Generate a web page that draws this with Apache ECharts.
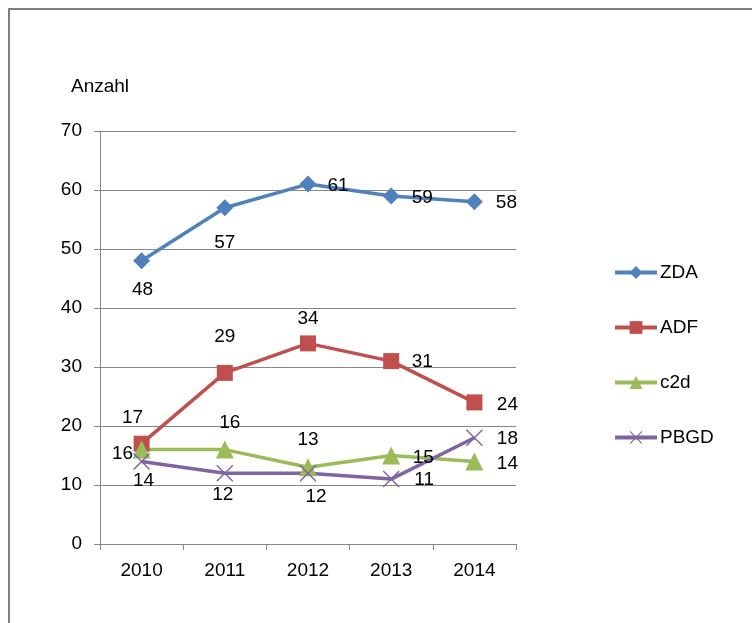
<!DOCTYPE html>
<html>
<head>
<meta charset="utf-8">
<script src="https://cdn.jsdelivr.net/npm/echarts@6/dist/echarts.min.js"></script>
<style>
html,body{margin:0;padding:0;background:#fff;}
#chart{width:752px;height:623px;}
</style>
</head>
<body>
<div id="chart"></div>
<script>
const categories = ['2010', '2011', '2012', '2013', '2014'];
const seriesNames = ['ZDA', 'ADF', 'c2d', 'PBGD'];
const zdaValues = [48, 57, 61, 59, 58];
const adfValues = [17, 29, 34, 31, 24];
const c2dValues = [16, 16, 13, 15, 14];
const pbgdValues = [14, 12, 12, 11, 18];
const yTicks = { min: 0, max: 70, interval: 10 };
const yAxisTitle = 'Anzahl';

// label offsets (style only)
const zdaOffsets = [[1, 29], [0, 35], [30, 2], [31, 2], [32, 1]];
const adfOffsets = [[-9, -26], [0, -36], [0, -25], [31, 1], [33, 2]];
const c2dOffsets = [[-19, 4], [5, -27], [0, -28], [32, 2], [33, 2]];
const pbgdOffsets = [[2, 19], [-2, 22], [8, 24], [33, 1], [33, 1]];

const FONT = 'Liberation Sans';
const FS = 19;
const axisGray = '#868686';
const crossPath = 'path://M0,1.2L1.2,0L10,8.8L18.8,0L20,1.2L11.2,10L20,18.8L18.8,20L10,11.2L1.2,20L0,18.8L8.8,10Z';

function buildData(values, offsets) {
  return values.map((v, i) => ({
    value: v,
    label: { offset: offsets[i] }
  }));
}

function mkSeries(name, values, offsets, color, symbol, size) {
  return {
    name: name,
    type: 'line',
    data: buildData(values, offsets),
    symbol: symbol,
    symbolSize: size,
    lineStyle: { color: color, width: 3.5 },
    itemStyle: { color: color },
    emphasis: { disabled: true },
    label: {
      show: true,
      position: 'inside',
      align: 'center',
      verticalAlign: 'middle',
      color: '#000',
      fontFamily: FONT,
      fontSize: FS
    },
    animation: false
  };
}

const chart = echarts.init(document.getElementById('chart'), null, { renderer: 'canvas' });
chart.setOption({
  backgroundColor: '#fff',
  animation: false,
  graphic: [{
    type: 'rect',
    shape: { x: 9, y: 9, width: 1000, height: 1000 },
    style: { fill: 'none', stroke: '#7f7f7f', lineWidth: 2 },
    silent: true
  }],
  grid: { left: 100, top: 131, width: 416, height: 413, containLabel: false },
  legend: {
    orient: 'vertical',
    left: 613,
    top: 263,
    padding: 0,
    itemWidth: 42,
    itemHeight: 16,
    itemGap: 36,
    data: seriesNames,
    lineStyle: { width: 4 },
    textStyle: { fontFamily: FONT, fontSize: FS, color: '#000', lineHeight: 18, padding: [0, 0, 0, -2] },
    selectedMode: false
  },
  xAxis: {
    type: 'category',
    data: categories,
    boundaryGap: true,
    axisLine: { show: true, lineStyle: { color: axisGray, width: 1 } },
    axisTick: { show: true, length: 6, lineStyle: { color: axisGray } },
    axisLabel: { color: '#000', fontFamily: FONT, fontSize: FS, margin: 17 },
    splitLine: { show: false }
  },
  yAxis: {
    type: 'value',
    min: yTicks.min,
    max: yTicks.max,
    interval: yTicks.interval,
    name: yAxisTitle,
    nameLocation: 'end',
    nameGap: 35,
    nameTextStyle: { color: '#000', fontFamily: FONT, fontSize: FS, align: 'center' },
    axisLine: { show: true, lineStyle: { color: axisGray, width: 1 } },
    axisTick: { show: true, length: 6, lineStyle: { color: axisGray } },
    axisLabel: { color: '#000', fontFamily: FONT, fontSize: FS, margin: 18 },
    splitLine: { show: true, lineStyle: { color: axisGray, width: 1 } }
  },
  series: [
    mkSeries('ZDA', zdaValues, zdaOffsets, '#4F81BD', 'diamond', 17),
    mkSeries('ADF', adfValues, adfOffsets, '#C0504D', 'rect', 16),
    mkSeries('c2d', c2dValues, c2dOffsets, '#9BBB59', 'triangle', 18),
    mkSeries('PBGD', pbgdValues, pbgdOffsets, '#8064A2', crossPath, 17)
  ]
});
</script>
</body>
</html>
